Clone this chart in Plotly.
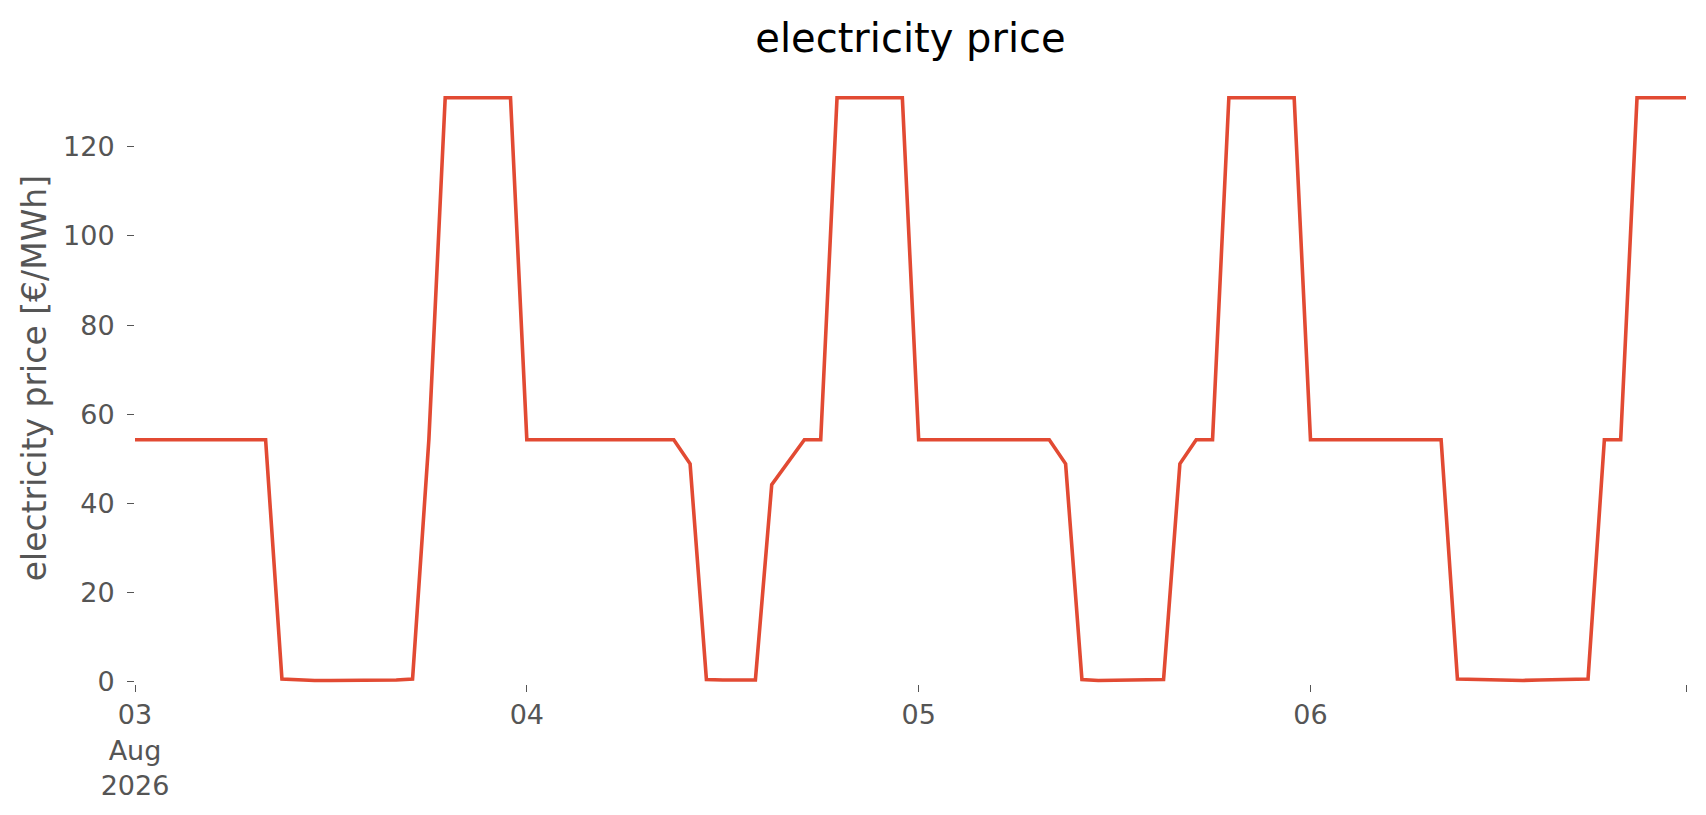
import pandas as pd
import plotly.graph_objects as go

# hourly electricity price, 3-6 Aug 2026
start = "2026-08-03 00:00"
price_day1 = [54.3] * 9 + [0.6, 0.4, 0.3, 0.3, 0.3, 0.3, 0.3, 0.4, 0.6, 54.3] + [131.0] * 5
price_day2 = [54.3] * 10 + [48.9, 0.5, 0.4, 0.4, 0.4, 44.2, 49.2, 54.3, 54.3] + [131.0] * 5
price_day3 = [54.3] * 9 + [48.9, 0.5, 0.3, 0.3, 0.3, 0.3, 0.5, 48.9, 54.3, 54.3] + [131.0] * 5
price_day4 = [54.3] * 9 + [0.6, 0.5, 0.4, 0.3, 0.3, 0.4, 0.4, 0.5, 0.6, 54.3, 54.3] + [131.0] * 4
price = price_day1 + price_day2 + price_day3 + price_day4

tick_dates = ["2026-08-03", "2026-08-04", "2026-08-05", "2026-08-06", "2026-08-06 23:00"]
tick_labels = ["03<br>Aug<br>2026", "04", "05", "06", ""]
y_ticks = [0, 20, 40, 60, 80, 100, 120]

times = pd.date_range(start, periods=len(price), freq="h")
grey = "#555555"

fig = go.Figure()
fig.add_trace(go.Scatter(x=times, y=price, mode="lines",
                         line=dict(color="#E24A33", width=3.6),
                         showlegend=False))

fig.update_layout(
    width=1706, height=815,
    margin=dict(l=127, r=28, t=63, b=139),
    paper_bgcolor="white", plot_bgcolor="white",
    font=dict(family="DejaVu Sans", size=27, color=grey),
    title=dict(text="electricity price", x=0.5, xref="paper", xanchor="center",
               y=1 - 30 / 815, yanchor="middle", yref="container",
               font=dict(size=40, color="black")),
)
# y label as a rotated annotation so it sits where the original one does
fig.add_annotation(text="electricity price [€/MWh]", textangle=-90,
                   xref="paper", yref="paper", x=-0.065, y=0.499,
                   xanchor="center", yanchor="middle", showarrow=False,
                   font=dict(size=33, color=grey))
fig.update_xaxes(range=[times[0], times[-1]], tickvals=tick_dates, ticktext=tick_labels,
                 ticks="outside", ticklen=7, tickwidth=1.3, tickcolor=grey,
                 showgrid=False, zeroline=False, showline=False,
                 tickfont=dict(size=27, color=grey))
fig.update_yaxes(range=[-0.5, 137], tickvals=y_ticks,
                 ticks="outside", ticklen=7, tickwidth=1.3, tickcolor=grey,
                 ticklabelstandoff=7,
                 showgrid=False, zeroline=False, showline=False,
                 tickfont=dict(size=27, color=grey))

fig.write_html("out.html")
